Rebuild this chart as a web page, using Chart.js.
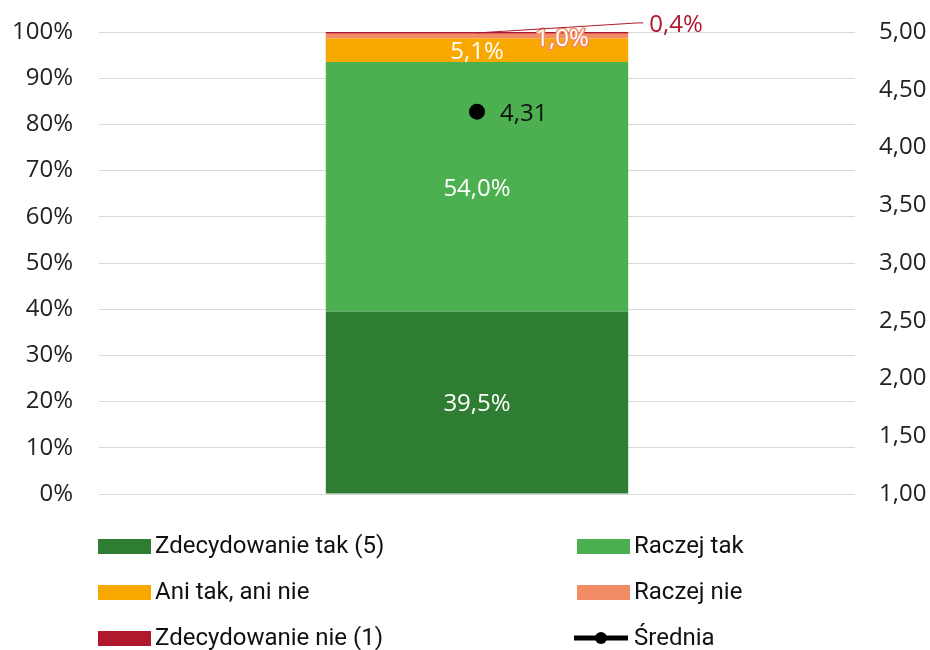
<!DOCTYPE html>
<html><head><meta charset="utf-8">
<script src="https://cdn.jsdelivr.net/npm/chart.js@4"></script>
<style>html,body{margin:0;padding:0;background:#fff}#wrap{width:930px;height:650px}</style>
</head><body><div id="wrap"><canvas id="c" width="930" height="650"></canvas></div>
<script>
const categories = [''];
const seriesNames = ['Zdecydowanie tak (5)', 'Raczej tak', 'Ani tak, ani nie', 'Raczej nie', 'Zdecydowanie nie (1)'];
const seriesValues = [[39.5], [54.0], [5.1], [1.0], [0.4]];
const seriesColors = ['#2E7D32', '#4CAF50', '#F9A800', '#F28C65', '#B0182E'];
const meanName = 'Średnia';
const meanValues = [4.31];
const leftTicks = [0,10,20,30,40,50,60,70,80,90,100];
const rightTicks = [1,1.5,2,2.5,3,3.5,4,4.5,5];

const FONT = "'Open Sans','Noto Sans',sans-serif";
const LEGEND_FONT = "24px 'Roboto',sans-serif";
const fmt = v => v.toFixed(1).replace('.', ',') + '%';
const labelStyle = [
  {dx:0, dy:2, fill:'#fff'},
  {dx:0, dy:2, fill:'#fff'},
  {dx:0, dy:2, fill:'#fff'},
  {dx:85, dy:3, fill:'#fff', stroke:'#F28C65'},
  {dx:199, dy:-8, fill:'#B0182E', leader:true}
];

const datasets = seriesNames.map((n,i)=>({
  type:'bar', label:n, data:seriesValues[i], backgroundColor:seriesColors[i],
  yAxisID:'y', stack:'s', categoryPercentage:0.4, barPercentage:1, order:2
}));
datasets.push({type:'line', label:meanName, data:meanValues, yAxisID:'y2',
  borderColor:'#000', backgroundColor:'#000', pointRadius:6, pointHoverRadius:6, borderWidth:4, order:1});

const labelPlugin = {
  id:'labels',
  afterDatasetsDraw(chart){
    const ctx = chart.ctx;
    ctx.save();
    ctx.font = "24px " + FONT;
    ctx.textAlign='center'; ctx.textBaseline='middle';
    seriesNames.forEach((n,i)=>{
      const el = chart.getDatasetMeta(i).data[0];
      const st = labelStyle[i];
      const txt = fmt(seriesValues[i][0]);
      const x = el.x + st.dx, y = (el.y + el.base)/2 + st.dy;
      if (st.leader){
        const w = ctx.measureText(txt).width;
        ctx.strokeStyle = st.fill; ctx.lineWidth = 1;
        ctx.beginPath(); ctx.moveTo(el.x, (el.y+el.base)/2); ctx.lineTo(x-w/2-12, y-2); ctx.lineTo(x-w/2-6, y-2); ctx.stroke();
      }
      if (st.stroke){ ctx.strokeStyle = st.stroke; ctx.lineWidth = 3; ctx.lineJoin='round'; ctx.strokeText(txt, x, y); }
      ctx.fillStyle = st.fill;
      ctx.fillText(txt, x, y);
    });
    const p = chart.getDatasetMeta(seriesNames.length).data[0];
    ctx.fillStyle='#111'; ctx.textAlign='left';
    ctx.fillText(meanValues[0].toFixed(2).replace('.', ','), p.x + 23, p.y + 2);
    // legend
    ctx.font = LEGEND_FONT;
    ctx.textBaseline='middle';
    const cols=[98,577], rows=[546,592,638];
    chart.data.datasets.forEach((d,i)=>{
      const x = cols[i%2], y = rows[Math.floor(i/2)];
      if (d.type==='line'){
        ctx.strokeStyle='#000'; ctx.lineWidth=5; ctx.beginPath(); ctx.moveTo(x-3,y); ctx.lineTo(x+51,y); ctx.stroke();
        ctx.fillStyle='#000'; ctx.beginPath(); ctx.arc(x+24,y,6,0,Math.PI*2); ctx.fill();
      } else {
        ctx.fillStyle=d.backgroundColor; ctx.fillRect(x,y-7,53,15);
      }
      ctx.fillStyle='#111';
      ctx.fillText(d.label, x+57, y+1);
    });
    ctx.restore();
  }
};

new Chart(document.getElementById('c'), {
  data:{labels:categories, datasets},
  options:{
    responsive:false, animation:false,
    layout:{padding:{left:0, right:0, top:32, bottom:156}},
    plugins:{legend:{display:false}, tooltip:{enabled:false}},
    scales:{
      x:{display:false, stacked:true},
      y:{stacked:true, min:0, max:100, position:'left',
        afterBuildTicks(s){ s.ticks = leftTicks.map(v=>({value:v})); },
        afterFit(s){ s.width = 99; s.paddingTop = 0; s.paddingBottom = 0; },
        ticks:{callback:v=>v+'%', font:{size:24, family:FONT}, color:'#222', padding:26},
        grid:{color:'#d9d9d9', drawTicks:false}, border:{display:false}},
      y2:{min:1, max:5, position:'right',
        afterBuildTicks(s){ s.ticks = rightTicks.map(v=>({value:v})); },
        afterFit(s){ s.width = 75; s.paddingTop = 0; s.paddingBottom = 0; },
        ticks:{callback:v=>v.toFixed(2).replace('.', ','), font:{size:24, family:FONT}, color:'#222', padding:24},
        grid:{display:false, drawTicks:false}, border:{display:false}}
    }
  },
  plugins:[labelPlugin]
});
</script></body></html>
